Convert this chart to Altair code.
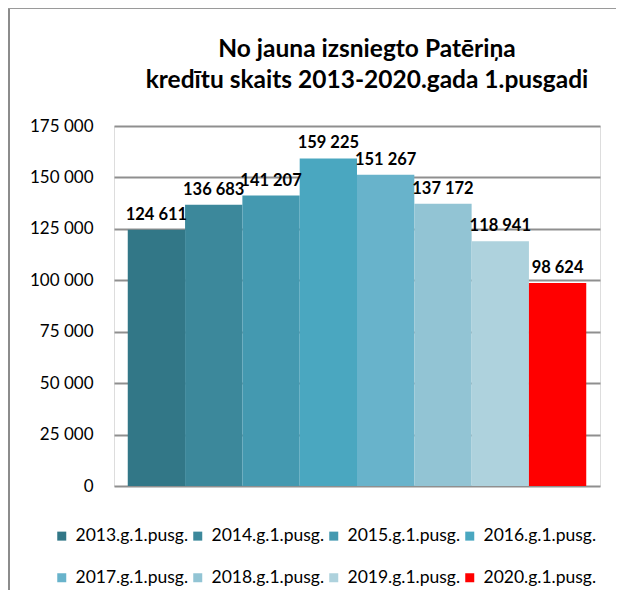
import altair as alt
import pandas as pd

periods = ["2013.g.1.pusg.", "2014.g.1.pusg.", "2015.g.1.pusg.", "2016.g.1.pusg.",
           "2017.g.1.pusg.", "2018.g.1.pusg.", "2019.g.1.pusg.", "2020.g.1.pusg."]
counts = [124611, 136683, 141207, 159225, 151267, 137172, 118941, 98624]
colors = ["#327787", "#3C889B", "#4499B0", "#4AA7C0",
          "#68B3CB", "#92C4D4", "#AED2DD", "#FF0000"]
y_ticks = [0, 25000, 50000, 75000, 100000, 125000, 150000, 175000]
title_lines = ["No jauna izsniegto Patēriņa", "kredītu skaits 2013-2020.gada 1.pusgadi"]

df = pd.DataFrame({"period": periods, "count": counts})

FONT = "Lato"

x_enc = alt.X("period:N", sort=None, axis=None,
              scale=alt.Scale(paddingInner=0, paddingOuter=0.24))
y_enc = alt.Y("count:Q",
              scale=alt.Scale(domain=[0, 175000], nice=False),
              axis=alt.Axis(values=y_ticks, title=None, domain=False, ticks=False,
                            labelPadding=21, labelFont=FONT, labelFontSize=17,
                            labelColor="#000000",
                            labelExpr="replace(format(datum.value, ','), ',', ' ')",
                            grid=True, gridColor="#8f8f8f", gridWidth=2))

base = alt.Chart(df)

bars = base.mark_bar(stroke=None).encode(
    x=x_enc,
    y=y_enc,
    color=alt.Color("period:N",
                    scale=alt.Scale(domain=periods, range=colors),
                    legend=alt.Legend(title=None, orient="none", legendX=-61, legendY=401,
                                      direction="horizontal", columns=4,
                                      symbolType="square", symbolSize=81,
                                      symbolStrokeWidth=0, labelOffset=5,
                                      labelFont=FONT, labelFontSize=17.5,
                                      labelColor="#000000",
                                      columnPadding=0, rowPadding=23, padding=0)),
)

labels = base.transform_calculate(
    lbl="replace(format(datum.count, ','), ',', ' ')"
).mark_text(font=FONT, fontSize=16.5, fontWeight="bold", color="#000000",
            baseline="alphabetic", dy=-10).encode(
    x=x_enc,
    y=alt.Y("count:Q"),
    text="lbl:N",
)

frame_df = pd.DataFrame({"k": [0]})
left_border = alt.Chart(frame_df).mark_rule(color="#8c8c8c", strokeWidth=2).encode(
    x=alt.value(-105), y=alt.value(-118), y2=alt.value(474))
top_border = alt.Chart(frame_df).mark_rule(color="#9a9a9a", strokeWidth=1).encode(
    x=alt.value(-106), x2=alt.value(502), y=alt.value(-117.5))

title1 = alt.Chart(frame_df).mark_text(
    font=FONT, fontSize=24.5, fontWeight="bold", color="#000000",
    align="center", baseline="alphabetic").encode(
    x=alt.value(253), y=alt.value(-69), text=alt.value(title_lines[0]))
title2 = alt.Chart(frame_df).mark_text(
    font=FONT, fontSize=24.5, fontWeight="bold", color="#000000",
    align="center", baseline="alphabetic").encode(
    x=alt.value(253), y=alt.value(-38), text=alt.value(title_lines[1]))

chart = alt.layer(left_border, top_border, title1, title2, bars, labels).properties(
    width=486,
    height=360,
    autosize=alt.AutoSizeParams(type="none"),
    padding={"left": 106, "top": 118, "right": 16, "bottom": 104},
).configure_view(stroke=None).configure(background="white")

chart.save("out.html", embed_options={"renderer": "svg", "actions": False})
